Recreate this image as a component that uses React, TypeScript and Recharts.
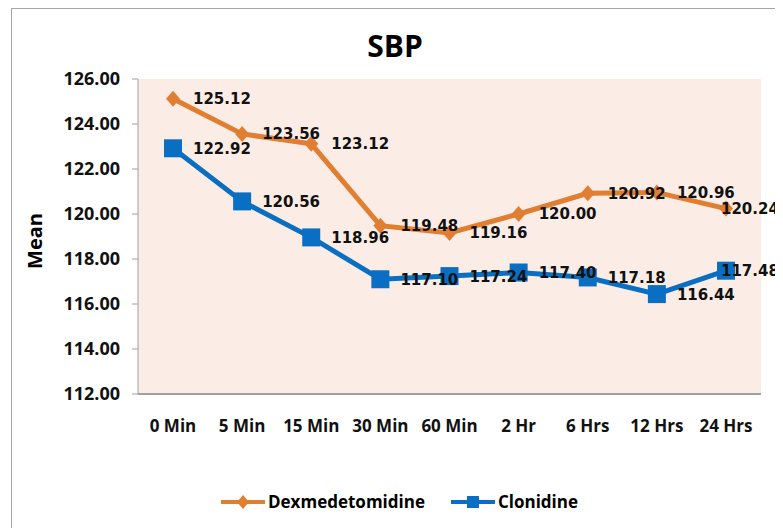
import { LineChart, Line, XAxis, YAxis, CartesianGrid, Legend, LabelList } from 'recharts'

const categories = ['0 Min', '5 Min', '15 Min', '30 Min', '60 Min', '2 Hr', '6 Hrs', '12 Hrs', '24 Hrs']
const dexValues = [125.12, 123.56, 123.12, 119.48, 119.16, 120.0, 120.92, 120.96, 120.24]
const cloValues = [122.92, 120.56, 118.96, 117.1, 117.24, 117.4, 117.18, 116.44, 117.48]
const yTicks = [112, 114, 116, 118, 120, 122, 124, 126]

const DEX = '#E07E32'
const CLO = '#0A6FC2'
const FONT = '"Open Sans", Calibri, sans-serif'

const data = categories.map((name, i) => ({ name, dex: dexValues[i], clo: cloValues[i] }))

function Diamond(props: any) {
  const { cx, cy } = props
  if (cx == null || cy == null) return null
  return <polygon points={`${cx},${cy - 8} ${cx + 7},${cy} ${cx},${cy + 8} ${cx - 7},${cy}`} fill={DEX} />
}

function Square(props: any) {
  const { cx, cy } = props
  if (cx == null || cy == null) return null
  return <rect x={cx - 9} y={cy - 9} width={18} height={18} fill={CLO} />
}

// data labels sit to the right of the point; the last one is pulled back inside the chart like Excel does
function ValueLabel(props: any) {
  const { x, y, value, index } = props
  if (x == null || y == null) return null
  const last = index === categories.length - 1
  return (
    <text
      x={x + (last ? -5 : 20)}
      y={y}
      dy="0.36em"
      textAnchor="start"
      fontFamily='"DejaVu Sans", sans-serif'
      fontWeight={700}
      fontSize={15}
      fill="#111"
    >
      {Number(value).toFixed(2)}
    </text>
  )
}

function LegendContent() {
  const items = [
    { label: 'Dexmedetomidine', color: DEX, shape: 'diamond' },
    { label: 'Clonidine', color: CLO, shape: 'square' },
  ]
  return (
    <div
      style={{
        display: 'flex',
        justifyContent: 'center',
        gap: 26,
        paddingLeft: 8,
        fontFamily: FONT,
        fontWeight: 700,
        fontSize: 17,
      }}
    >
      {items.map((it) => (
        <div key={it.label} style={{ display: 'flex', alignItems: 'center' }}>
          <svg width={44} height={16}>
            <line x1={0} y1={8} x2={44} y2={8} stroke={it.color} strokeWidth={4} />
            {it.shape === 'diamond' ? (
              <polygon points="22,1 28,8 22,15 16,8" fill={it.color} />
            ) : (
              <rect x={16} y={2} width={12} height={12} fill={it.color} />
            )}
          </svg>
          <span style={{ marginLeft: 3 }}>{it.label}</span>
        </div>
      ))}
    </div>
  )
}

export default function App() {
  return (
    <div style={{ position: 'relative', width: 775, height: 520, overflow: 'hidden', background: '#fff' }}>
      <div
        style={{
          position: 'absolute',
          left: 3,
          top: 0,
          width: 768,
          height: 540,
          border: '1px solid #a6a6a6',
        }}
      />
      <div
        style={{
          position: 'absolute',
          left: 287,
          top: 17,
          width: 200,
          textAlign: 'center',
          fontFamily: FONT,
          fontWeight: 700,
          fontSize: 30,
          lineHeight: '42px',
        }}
      >
        SBP
      </div>
      <div
        style={{
          position: 'absolute',
          left: 26,
          top: 233,
          transform: 'translate(-50%, -50%) rotate(-90deg)',
          fontFamily: FONT,
          fontWeight: 700,
          fontSize: 20,
        }}
      >
        Mean
      </div>
      <LineChart
        width={775}
        height={520}
        data={data}
        margin={{ top: 71, right: 22, bottom: 104, left: 10 }}
        style={{ position: 'absolute', left: 0, top: 0 }}
      >
        <CartesianGrid horizontal={false} vertical={false} fill="#FCECE6" />
        <XAxis
          dataKey="name"
          height={30}
          padding={{ left: 35, right: 35 }}
          axisLine={{ stroke: '#a0a0a0', strokeWidth: 2 }}
          tickLine={false}
          tickSize={0}
          tickMargin={26}
          tick={{ fontFamily: FONT, fontWeight: 700, fontSize: 17, fill: '#111' }}
          interval={0}
        />
        <YAxis
          width={120}
          domain={[112, 126]}
          ticks={yTicks}
          tickFormatter={(v: number) => v.toFixed(2)}
          axisLine={{ stroke: '#a0a0a0' }}
          tickLine={{ stroke: '#a0a0a0' }}
          tickSize={6}
          tickMargin={12}
          tick={{ fontFamily: FONT, fontWeight: 700, fontSize: 18, fill: '#111' }}
        />
        <Legend
          layout="horizontal"
          verticalAlign="middle"
          align="center"
          wrapperStyle={{ top: 482, left: 0, width: 775 }}
          content={<LegendContent />}
        />
        <Line
          dataKey="dex"
          name="Dexmedetomidine"
          stroke={DEX}
          strokeWidth={5}
          dot={<Diamond />}
          activeDot={false}
          isAnimationActive={false}
        >
          <LabelList dataKey="dex" content={<ValueLabel />} />
        </Line>
        <Line
          dataKey="clo"
          name="Clonidine"
          stroke={CLO}
          strokeWidth={5}
          dot={<Square />}
          activeDot={false}
          isAnimationActive={false}
        >
          <LabelList dataKey="clo" content={<ValueLabel />} />
        </Line>
      </LineChart>
    </div>
  )
}
